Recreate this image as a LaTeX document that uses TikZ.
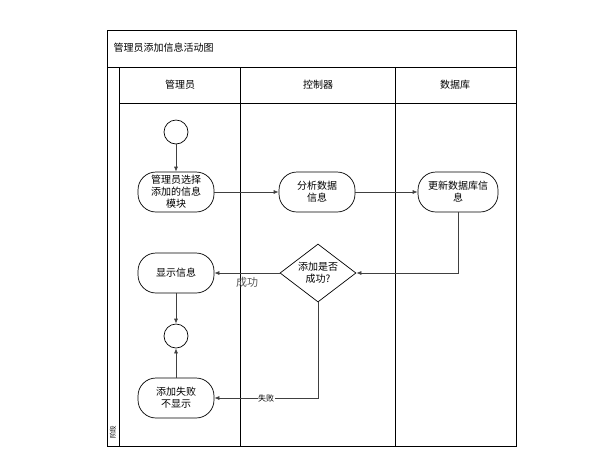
\documentclass[tikz,border=0pt]{standalone}
\usepackage{fontspec}
\setmainfont{Noto Sans CJK SC}
\usetikzlibrary{shapes.geometric,arrows.meta}

\begin{document}
\begin{tikzpicture}[x=1pt, y=-1pt,
    lane/.style={draw=black, line width=0.8pt},
    act/.style={draw, line width=0.7pt, rounded corners=18pt, minimum width=76pt,
                minimum height=40pt, inner sep=1pt, align=center,
                font=\fontsize{10}{12}\selectfont},
    dot/.style={draw, line width=0.7pt, circle, minimum size=24pt, inner sep=0pt},
    choice/.style={draw, line width=0.7pt, diamond, aspect=1.3, minimum width=76pt,
                   minimum height=58pt, inner sep=0pt, align=center,
                   font=\fontsize{10}{12}\selectfont},
    flow/.style={draw=black!75, line width=0.7pt, -{Latex[length=5pt,width=4pt]}},
    head/.style={font=\fontsize{10}{12}\selectfont}]
  \useasboundingbox (0,0) rectangle (607,459);

  \draw[lane] (107,30) rectangle (516,446);
  \draw[lane] (107,67) -- (516,67);
  \draw[lane] (119,67) -- (119,446);
  \draw[lane] (119,103) -- (516,103);
  \draw[lane] (240,67) -- (240,446);
  \draw[lane] (395,67) -- (395,446);

  \node[head, anchor=west] (title) at (110,48) {管理员添加信息活动图};
  \node[head] (admin) at (180,85) {管理员};
  \node[head] (ctrl) at (318,85) {控制器};
  \node[head] (db) at (455,85) {数据库};
  \node[rotate=90, font=\fontsize{6.5}{7}\selectfont, inner sep=0pt] (stage) at (113,432) {阶段};

  \node[dot] (start) at (176,132) {};
  \node[act] (choose) at (176,192) {管理员选择\\添加的信息\\模块};
  \node[act] (analyse) at (317,192) {分析数据\\信息};
  \node[act, minimum width=80pt] (update) at (458,192) {更新数据库信\\息};
  \node[choice] (check) at (318,273) {添加是否\\成功?};
  \node[act] (show) at (176,273) {显示信息};
  \node[dot] (merge) at (176,336) {};
  \node[act] (fail) at (176,398) {添加失败\\不显示};

  \draw[flow] (start) -- (choose);
  \draw[flow] (choose) -- (analyse);
  \draw[flow] (analyse) -- (update);
  \draw[flow] (update.south) |- (check.east);
  \draw[flow] (check.west) -- node[below=1pt, text=black!65, font=\fontsize{11}{12}\selectfont] (ok) {成功} (show.east);
  \draw[flow] (check.south) |- node[pos=0.75, fill=white, inner sep=0.5pt, font=\fontsize{8}{9}\selectfont] (ko) {失败} (fail.east);
  \draw[flow] (show) -- (merge);
  \draw[flow] (fail) -- (merge);
\end{tikzpicture}
\end{document}
